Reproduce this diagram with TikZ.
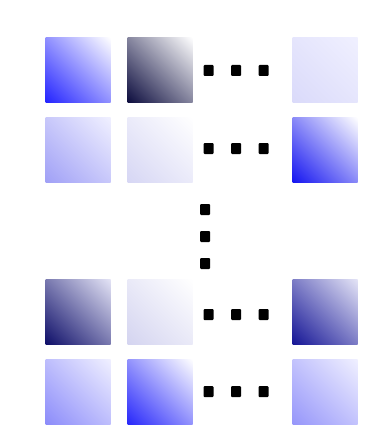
\documentclass[tikz,border=0pt]{standalone}
\usetikzlibrary{shadings}
\definecolor{Wa}{RGB}{255,255,255}
\definecolor{Wb}{RGB}{240,240,255}
\definecolor{Wc}{RGB}{228,228,246}
\definecolor{Aa}{RGB}{35,35,255}
\definecolor{Ab}{RGB}{12,12,62}
\definecolor{Ac}{RGB}{218,218,250}
\definecolor{Ad}{RGB}{160,160,246}
\definecolor{Ae}{RGB}{214,214,244}
\definecolor{Af}{RGB}{20,20,240}
\definecolor{Ag}{RGB}{15,15,105}
\definecolor{Ah}{RGB}{212,212,240}
\definecolor{Ai}{RGB}{22,22,150}
\definecolor{Aj}{RGB}{140,140,250}
\definecolor{Ak}{RGB}{40,40,250}
\definecolor{Al}{RGB}{150,150,250}
\tikzset{
  sq/.style 2 args={anchor=north west, minimum size=65pt, inner sep=0pt, outer sep=0pt,
    lower left=#1, upper right=#2, upper left=#1!50!#2, lower right=#1!50!#2},
  dotbox/.style={fill=black, minimum width=10pt, minimum height=11pt, inner sep=0pt, rounded corners=1pt}
}
\begin{document}
\begin{tikzpicture}[x=1pt,y=-1pt]
\useasboundingbox[fill=white] (0,0) rectangle (376,425);
% row 1
\node[sq={Aa}{Wa}] (s11) at (45.5,37.5) {};
\node[sq={Ab}{Wa}] (s12) at (127.5,37.5) {};
\node[sq={Ac}{Wb}] (s13) at (292.5,37.5) {};
% row 2
\node[sq={Ad}{Wb}] (s21) at (45.5,117.5) {};
\node[sq={Ae}{Wa}] (s22) at (127.5,117.5) {};
\node[sq={Af}{Wa}] (s23) at (292.5,117.5) {};
% row 3
\node[sq={Ag}{Wc}] (s31) at (45.5,279) {};
\node[sq={Ah}{Wa}] (s32) at (127.5,279) {};
\node[sq={Ai}{Wc}] (s33) at (292.5,279) {};
% row 4
\node[sq={Aj}{Wb}] (s41) at (45.5,359) {};
\node[sq={Ak}{Wa}] (s42) at (127.5,359) {};
\node[sq={Al}{Wb}] (s43) at (292.5,359) {};
% horizontal dots
\node[dotbox] (h1a) at (208.5,70.5) {};
\node[dotbox] (h1b) at (236,70.5) {};
\node[dotbox] (h1c) at (263.5,70.5) {};
\node[dotbox] (h2a) at (208.5,148.5) {};
\node[dotbox] (h2b) at (236,148.5) {};
\node[dotbox] (h2c) at (263.5,148.5) {};
\node[dotbox] (h3a) at (208.5,314.5) {};
\node[dotbox] (h3b) at (236,314.5) {};
\node[dotbox] (h3c) at (263.5,314.5) {};
\node[dotbox] (h4a) at (208.5,391.5) {};
\node[dotbox] (h4b) at (236,391.5) {};
\node[dotbox] (h4c) at (263.5,391.5) {};
% vertical dots
\node[dotbox] (v1) at (205,209.5) {};
\node[dotbox] (v2) at (205,236.5) {};
\node[dotbox] (v3) at (205,263.5) {};
\end{tikzpicture}
\end{document}
